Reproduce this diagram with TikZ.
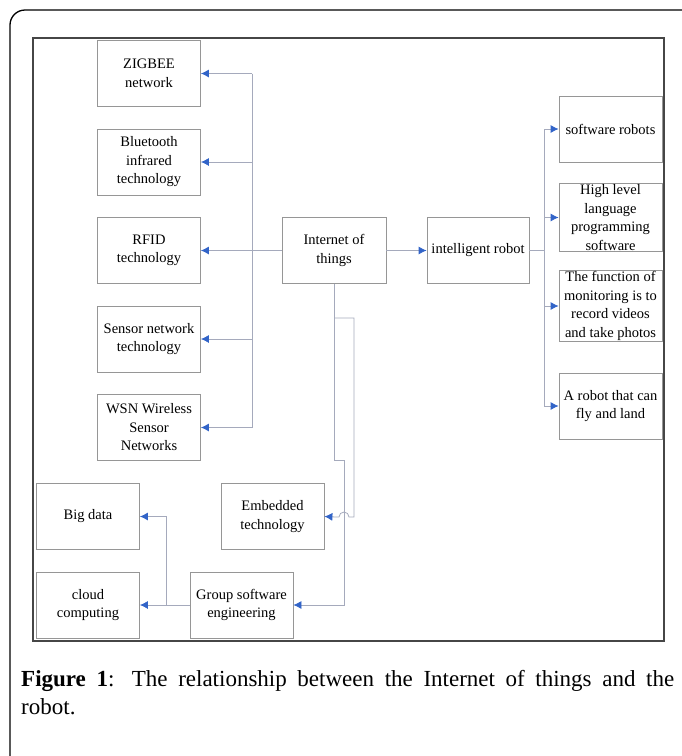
\documentclass[tikz,border=0pt]{standalone}
\usepackage{fontspec}
\setmainfont{Liberation Serif}
\usetikzlibrary{arrows.meta}
\definecolor{boxgray}{RGB}{150,150,150}
\definecolor{linkgray}{RGB}{165,170,188}
\definecolor{tipblue}{RGB}{50,100,200}
\definecolor{framegray}{RGB}{70,70,70}
\def\topicnode{\node[topic]}
\def\drawlink{\draw[link]}

\begin{document}
\begin{tikzpicture}[x=1pt,y=-1pt,
  topic/.style={draw=boxgray, line width=0.8pt, minimum width=103pt, minimum height=66pt,
    inner sep=1pt, align=center, font=\fontsize{14.5}{18.5}\selectfont},
  link/.style={draw=linkgray, line width=0.8pt, -{Latex[length=8pt,width=8pt,color=tipblue]}},
  wire/.style={draw=linkgray, line width=0.8pt}]
\useasboundingbox (0,0) rectangle (681,756);

% page frame and figure frame
\draw[line width=1.3pt] (10,760) -- (10,25) arc[start angle=180, end angle=90, radius=15pt] -- (685,10);
\draw[framegray, line width=2pt] (33,38) rectangle (664,641);

% left column
\topicnode (zig) at (149,73.5) {ZIGBEE\\network};
\topicnode (blue) at (149,162) {Bluetooth\\infrared\\technology};
\topicnode (rfid) at (149,250.5) {RFID\\technology};
\topicnode (sens) at (149,339) {Sensor network\\technology};
\topicnode (wsn) at (149,427.5) {WSN Wireless\\Sensor\\Networks};

% middle
\topicnode[minimum width=104pt] (iot) at (334,250.5) {Internet of\\things};
\topicnode[minimum width=102pt] (robot) at (478,250.5) {intelligent robot};

% right column
\topicnode (soft) at (610.5,129) {software robots};
\topicnode (high) at (610.5,217.5) {High level\\language\\programming\\software};
\topicnode (func) at (610.5,306) {The function of\\monitoring is to\\record videos\\and take photos};
\topicnode (fly) at (610.5,406) {A robot that can\\fly and land};

% bottom
\topicnode (big) at (88,516.5) {Big data};
\topicnode (cloud) at (88,605) {cloud\\computing};
\topicnode (emb) at (272.5,516.5) {Embedded\\technology};
\topicnode (group) at (241.5,605) {Group software\\engineering};

% left bus
\coordinate (lbus) at (252,0);
\draw[wire] (iot.west) -- (iot.west -| lbus);
\draw[wire] (zig.east -| lbus) -- (wsn.east -| lbus);
\foreach \n in {zig,blue,rfid,sens,wsn}
  \drawlink (\n.east -| lbus) -- (\n.east);

\drawlink (iot.east) -- (robot.west);

% right bus
\coordinate (rbus) at (544,0);
\draw[wire] (robot.east) -- (robot.east -| rbus);
\draw[wire] (soft.west -| rbus) -- (fly.west -| rbus);
\foreach \n in {soft,high,func,fly}
  \drawlink (\n.west -| rbus) -- (\n.west);

% down from the internet of things
\coordinate (split) at (334,318);
\drawlink (iot.south) -- (334,460) -- (344,460) -- (344,605) -- (group.east);
\draw[wire] (split) -- (354,318) -- (354,517) -- (349,517)
  arc[start angle=0, end angle=180, radius=5pt] -- (336,517);
\drawlink (336,517) -- (emb.east);

% group software engineering
\drawlink (group.west) -- (cloud.east);
\drawlink (166,605) -- (166,516.5) -- (big.east);

% caption
\node[anchor=base west, inner sep=0pt, font=\fontsize{23}{28}\selectfont] (cap1) at (21,686)
  {\hbox to 653pt{\textbf{Figure 1}: The relationship between the Internet of things and the}};
\node[anchor=base west, inner sep=0pt, font=\fontsize{23}{28}\selectfont] (cap2) at (21,714) {robot.};
\end{tikzpicture}
\end{document}
